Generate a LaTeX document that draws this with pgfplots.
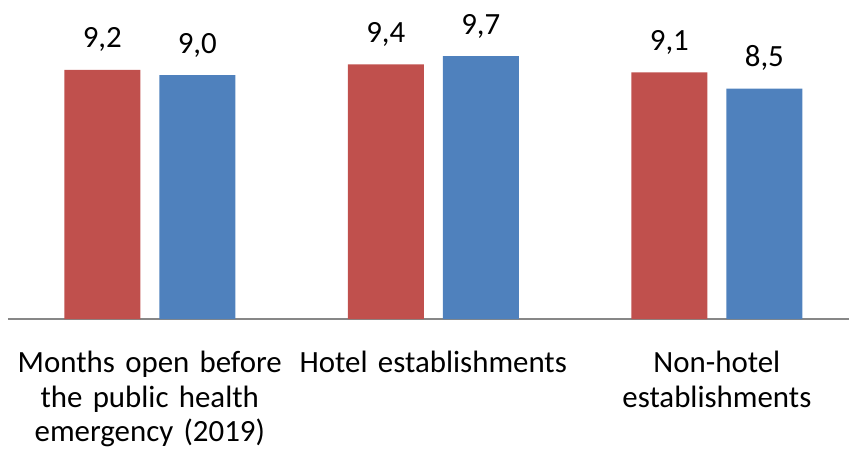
\documentclass[border=0pt]{standalone}
\usepackage{fontspec}
\setmainfont{Carlito}
\usepackage{pgfplots}
\pgfplotsset{compat=1.18}

\definecolor{barred}{HTML}{C0504D}
\definecolor{barblue}{HTML}{4F81BD}
\definecolor{axisgray}{HTML}{878787}

\begin{document}
\fontsize{31}{35}\selectfont
\begin{tikzpicture}
% fixed frame: the axis box sits with its lower left corner at the origin
\path[use as bounding box] (-8bp,-130bp) rectangle (841bp,319bp);
\begin{axis}[
  at={(0,0)}, anchor=south west,
  scale only axis,
  width=841bp, height=298bp,
  xmin=-0.5, xmax=2.466,
  ymin=0, ymax=11,
  axis x line*=bottom,
  axis y line=none,
  x axis line style={axisgray, line width=1.8bp},
  xtick={0,1,2},
  xticklabels={{Months open before\\the public health\\emergency (2019)},
               {Hotel establishments},
               {Non-hotel\\establishments}},
  xtick style={draw=none},
  xticklabel style={font=\fontsize{31}{35}\selectfont, align=center,
                    text width=290bp, anchor=base, yshift=-49bp, inner sep=0pt},
  ytick=\empty,
  ybar, bar width=76bp,
  /pgf/number format/.cd, fixed, fixed zerofill, precision=1, use comma,
  assume math mode=true,
  /pgfplots/.cd,
  nodes near coords,
  every node near coord/.append style={font=\fontsize{31}{35}\selectfont,
                                       anchor=base, yshift=22bp, inner sep=0pt},
]
\addplot[fill=barred, draw=none, bar shift=-47.5bp] coordinates {(0,9.2) (1,9.4) (2,9.1)};
\addplot[fill=barblue, draw=none, bar shift=47.5bp] coordinates {(0,9.0) (1,9.7) (2,8.5)};
\end{axis}
\end{tikzpicture}
\end{document}
